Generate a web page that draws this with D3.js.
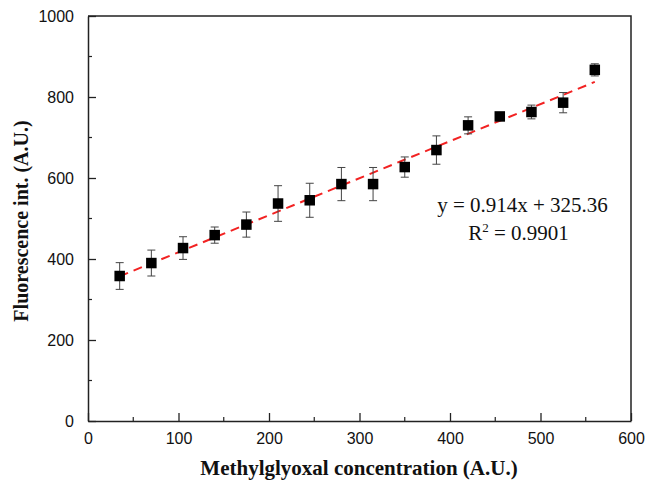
<!DOCTYPE html>
<html>
<head>
<meta charset="utf-8">
<script src="https://cdn.jsdelivr.net/npm/d3@7"></script>
<style>
  html, body { margin: 0; padding: 0; background: #fff; }
  svg { display: block; }
</style>
</head>
<body>
<svg id="chart" width="646" height="489"></svg>
<script>
// Data
const concentrations = [35, 70, 105, 140, 175, 210, 245, 280, 315, 350, 385, 420, 455, 490, 525, 560];
const fluorescence   = [358, 390, 427, 459, 485, 537, 545, 585, 585, 627, 669, 730, 752, 763, 786, 867];
const errors         = [33, 32, 28, 20, 31, 44, 42, 41, 41, 25, 35, 21, 5, 17, 25, 15];
const fitSlope = 0.914;
const fitIntercept = 325.36;
const fitR2 = "0.9901";
const xTicks = [0, 100, 200, 300, 400, 500, 600];
const yTicks = [0, 200, 400, 600, 800, 1000];
const xTitle = "Methylglyoxal concentration (A.U.)";
const yTitle = "Fluorescence int. (A.U.)";

const svg = d3.select("#chart");
const L = 88, R = 631, T = 16, B = 421;

const x = d3.scaleLinear().domain([0, 600]).range([L, R]);
const y = d3.scaleLinear().domain([0, 1000]).range([B, T]);

const axisColor = "#222";

// frame (top and right)
svg.append("path")
  .attr("d", `M${L},${T}H${R}V${B}`)
  .attr("fill", "none").attr("stroke", axisColor).attr("stroke-width", 1.5);

// minor ticks
const xMinor = d3.range(50, 600, 100);
const yMinor = d3.range(100, 1000, 200);
svg.append("g").selectAll("line").data(xMinor).join("line")
  .attr("x1", d => x(d)).attr("x2", d => x(d))
  .attr("y1", B).attr("y2", B - 4)
  .attr("stroke", axisColor).attr("stroke-width", 1.2);
svg.append("g").selectAll("line").data(yMinor).join("line")
  .attr("y1", d => y(d)).attr("y2", d => y(d))
  .attr("x1", L).attr("x2", L + 4)
  .attr("stroke", axisColor).attr("stroke-width", 1.2);

// x axis
const gx = svg.append("g").attr("transform", `translate(0,${B})`)
  .call(d3.axisBottom(x).tickValues(xTicks).tickSizeInner(-8).tickSizeOuter(0).tickPadding(12).tickFormat(d3.format("d")));
gx.select(".domain").attr("stroke", axisColor).attr("stroke-width", 1.5);
gx.selectAll(".tick line").attr("stroke", axisColor).attr("stroke-width", 1.3);
gx.selectAll(".tick text").attr("font-family", "'Liberation Sans', Arial, sans-serif")
  .attr("font-size", 16).attr("fill", "#111");

// y axis
const gy = svg.append("g").attr("transform", `translate(${L},0)`)
  .call(d3.axisLeft(y).tickValues(yTicks).tickSizeInner(-8).tickSizeOuter(0).tickPadding(14).tickFormat(d3.format("d")));
gy.select(".domain").attr("stroke", axisColor).attr("stroke-width", 1.5);
gy.selectAll(".tick line").attr("stroke", axisColor).attr("stroke-width", 1.3);
gy.selectAll(".tick text").attr("font-family", "'Liberation Sans', Arial, sans-serif")
  .attr("font-size", 16).attr("fill", "#111");

// fit line
svg.append("line")
  .attr("x1", x(concentrations[0])).attr("y1", y(fitSlope * concentrations[0] + fitIntercept))
  .attr("x2", x(concentrations[concentrations.length - 1]))
  .attr("y2", y(fitSlope * concentrations[concentrations.length - 1] + fitIntercept))
  .attr("stroke", "#f22222").attr("stroke-width", 2)
  .attr("stroke-dasharray", "9,6");

const pts = concentrations.map((c, i) => ({ c, v: fluorescence[i], e: errors[i] }));

// error bars
const eb = svg.append("g").attr("stroke", "#444").attr("stroke-width", 1);
eb.selectAll("line.v").data(pts).join("line").attr("class", "v")
  .attr("x1", d => x(d.c)).attr("x2", d => x(d.c))
  .attr("y1", d => y(d.v - d.e)).attr("y2", d => y(d.v + d.e));
eb.selectAll("line.t").data(pts).join("line").attr("class", "t")
  .attr("x1", d => x(d.c) - 4).attr("x2", d => x(d.c) + 4)
  .attr("y1", d => y(d.v + d.e)).attr("y2", d => y(d.v + d.e));
eb.selectAll("line.b").data(pts).join("line").attr("class", "b")
  .attr("x1", d => x(d.c) - 4).attr("x2", d => x(d.c) + 4)
  .attr("y1", d => y(d.v - d.e)).attr("y2", d => y(d.v - d.e));

// markers
const s = 10.5;
svg.append("g").selectAll("rect").data(pts).join("rect")
  .attr("x", d => x(d.c) - s / 2).attr("y", d => y(d.v) - s / 2)
  .attr("width", s).attr("height", s).attr("fill", "#000");

// equation text
const eq = svg.append("text")
  .attr("x", 522.5).attr("y", 212).attr("text-anchor", "middle")
  .attr("font-family", "'Liberation Serif', 'Times New Roman', serif")
  .attr("font-size", 21).attr("fill", "#111")
  .text(`y = ${fitSlope}x + ${fitIntercept}`);
const r2 = svg.append("text")
  .attr("x", 518.5).attr("y", 240).attr("text-anchor", "middle")
  .attr("font-family", "'Liberation Serif', 'Times New Roman', serif")
  .attr("font-size", 21).attr("fill", "#111");
r2.append("tspan").text("R");
r2.append("tspan").attr("dy", -8).attr("font-size", 13).text("2");
r2.append("tspan").attr("dy", 8).text(` = ${fitR2}`);

// axis titles
svg.append("text")
  .attr("x", 359).attr("y", 475).attr("text-anchor", "middle")
  .attr("font-family", "'Liberation Serif', 'Times New Roman', serif")
  .attr("font-weight", "bold").attr("font-size", 21).attr("fill", "#111")
  .text(xTitle);
svg.append("text")
  .attr("transform", `translate(28,221) rotate(-90)`)
  .attr("text-anchor", "middle")
  .attr("font-family", "'Liberation Serif', 'Times New Roman', serif")
  .attr("font-weight", "bold").attr("font-size", 20).attr("fill", "#111")
  .text(yTitle);
</script>
</body>
</html>
